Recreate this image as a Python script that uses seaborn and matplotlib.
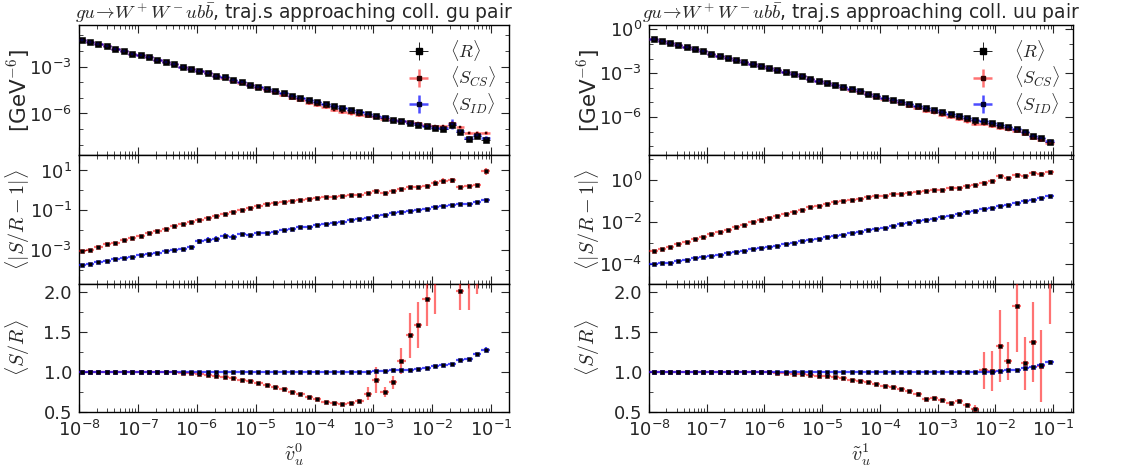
import numpy as np
import matplotlib
matplotlib.use("Agg")
import matplotlib.pyplot as plt
import seaborn as sns
from matplotlib.ticker import FixedLocator, NullFormatter, LogFormatterSciNotation, LogLocator, MultipleLocator
from matplotlib.legend_handler import HandlerTuple
from matplotlib.lines import Line2D

sns.set_style("ticks")
plt.rcParams["font.family"] = ["DejaVu Sans"]
plt.rcParams["mathtext.fontset"] = "cm"
plt.rcParams["axes.unicode_minus"] = False

# ---------------- data ----------------
N_BINS = 49
BINS_PER_DECADE = 7
x0_left = -7.955   # log10 of first bin position, left column
x0_right = -7.92   # log10 of first bin position, right column

# left column: trajectories approaching collinear gu pair
R_left_log = [-1.33, -1.44, -1.59, -1.71, -1.89, -2.01, -2.19, -2.29, -2.42, -2.57,
              -2.72, -2.87, -3.00, -3.15, -3.28, -3.41, -3.58, -3.69, -3.88, -4.01,
              -4.16, -4.31, -4.43, -4.56, -4.69, -4.86, -4.99, -5.14, -5.27, -5.40,
              -5.55, -5.66, -5.78, -5.89, -6.02, -6.15, -6.26, -6.41, -6.49, -6.62,
              -6.71, -6.81, -6.94, -6.96, -6.71, -7.18, -7.61, -7.46, -7.67]
SCS_left_log = [-1.33, -1.44, -1.59, -1.71, -1.89, -2.01, -2.19, -2.29, -2.42, -2.57,
                -2.72, -2.87, -3.00, -3.16, -3.29, -3.43, -3.60, -3.72, -3.91, -4.05,
                -4.21, -4.37, -4.51, -4.65, -4.79, -4.98, -5.13, -5.30, -5.45, -5.60,
                -5.76, -5.88, -5.99, -6.08, -6.16, -6.20, -6.35, -6.44, -6.46, -6.56,
                -6.62, -6.72, -6.80, -6.82, -6.58, -6.86, -7.22, -7.22, -7.22]
SID_left_log = [-1.33, -1.44, -1.59, -1.71, -1.89, -2.01, -2.19, -2.29, -2.42, -2.57,
                -2.72, -2.87, -3.00, -3.15, -3.28, -3.41, -3.58, -3.69, -3.88, -4.01,
                -4.16, -4.31, -4.43, -4.56, -4.69, -4.86, -4.99, -5.14, -5.27, -5.40,
                -5.55, -5.66, -5.78, -5.89, -6.02, -6.14, -6.25, -6.40, -6.48, -6.60,
                -6.69, -6.79, -6.91, -6.92, -6.67, -7.12, -7.54, -7.37, -7.56]
SID_left_err = [0.08] * 44 + [0.3, 0.08, 0.1, 0.1, 0.12]
dev_cs_left_log = [-3.05, -2.97, -2.83, -2.70, -2.62, -2.50, -2.38, -2.30, -2.13, -2.05,
                   -1.92, -1.78, -1.70, -1.58, -1.50, -1.38, -1.28, -1.17, -1.08, -1.00,
                   -0.87, -0.78, -0.70, -0.63, -0.58, -0.53, -0.47, -0.42, -0.38, -0.33,
                   -0.33, -0.30, -0.25, -0.22, -0.13, -0.05, -0.13, -0.05, 0.05, 0.15,
                   0.15, 0.22, 0.38, 0.47, 0.50, 0.18, 0.20, 0.28, 0.95]
dev_id_left_log = [-3.75, -3.67, -3.58, -3.53, -3.45, -3.38, -3.33, -3.25, -3.20, -3.13,
                   -3.05, -3.00, -2.92, -2.83, -2.55, -2.50, -2.45, -2.28, -2.33, -2.20,
                   -2.25, -2.12, -2.12, -2.08, -2.00, -1.95, -1.83, -1.83, -1.75, -1.70,
                   -1.63, -1.58, -1.50, -1.42, -1.37, -1.28, -1.22, -1.12, -1.08, -1.05,
                   -1.00, -0.92, -0.83, -0.78, -0.75, -0.67, -0.67, -0.58, -0.50]
dev_cs_left_err = [0.03, 0.03, 0.03, 0.03, 0.03, 0.03, 0.03, 0.03, 0.03, 0.03,
                   0.03, 0.03, 0.03, 0.03, 0.03, 0.03, 0.03, 0.03, 0.03, 0.03,
                   0.03, 0.03, 0.03, 0.03, 0.03, 0.03, 0.03, 0.03, 0.03, 0.03,
                   0.03, 0.03, 0.03, 0.03, 0.04, 0.04, 0.04, 0.04, 0.05, 0.06,
                   0.06, 0.10, 0.15, 0.15, 0.12, 0.05, 0.05, 0.06, 0.18]
dev_id_left_err = [0.03, 0.03, 0.03, 0.03, 0.03, 0.03, 0.03, 0.03, 0.03, 0.03,
                   0.03, 0.03, 0.03, 0.03, 0.12, 0.15, 0.15, 0.12, 0.12, 0.08,
                   0.05, 0.04, 0.03, 0.03, 0.03, 0.03, 0.03, 0.03, 0.03, 0.03,
                   0.03, 0.03, 0.03, 0.03, 0.03, 0.03, 0.03, 0.03, 0.03, 0.03,
                   0.03, 0.03, 0.03, 0.03, 0.03, 0.03, 0.03, 0.03, 0.03]
ratio_cs_left = [1.00, 1.00, 1.00, 1.00, 1.00, 1.00, 1.00, 1.00, 1.00, 1.00,
                 1.00, 0.995, 0.99, 0.985, 0.975, 0.965, 0.95, 0.935, 0.925, 0.905,
                 0.885, 0.865, 0.84, 0.81, 0.79, 0.75, 0.72, 0.69, 0.66, 0.63,
                 0.615, 0.60, 0.61, 0.64, 0.73, 0.90, 0.75, 0.87, 1.14, 1.46,
                 1.59, 1.91, 2.50, 3.40, 4.20, 2.01, 2.45, 2.65, 9.90]
ratio_cs_left_err = [0.002, 0.002, 0.002, 0.002, 0.002, 0.002, 0.002, 0.002, 0.002, 0.002,
                     0.003, 0.003, 0.003, 0.004, 0.004, 0.005, 0.005, 0.005, 0.006, 0.006,
                     0.007, 0.007, 0.008, 0.008, 0.009, 0.010, 0.010, 0.011, 0.012, 0.013,
                     0.014, 0.015, 0.016, 0.020, 0.085, 0.16, 0.06, 0.08, 0.16, 0.28,
                     0.29, 0.34, 0.78, 1.00, 1.50, 0.23, 0.67, 0.67, 5.00]
ratio_id_left = [1.00, 1.00, 1.00, 1.00, 1.00, 1.00, 1.00, 1.00, 1.00, 1.00,
                 1.00, 1.00, 1.00, 1.00, 1.00, 1.00, 1.00, 1.00, 1.00, 1.00,
                 1.00, 1.00, 1.00, 1.00, 1.00, 1.00, 1.00, 1.00, 1.00, 1.00,
                 1.00, 1.00, 1.00, 1.00, 1.005, 1.01, 1.015, 1.02, 1.03, 1.03,
                 1.04, 1.05, 1.07, 1.09, 1.10, 1.15, 1.16, 1.22, 1.28]
ratio_id_left_err = [0.001] * 40 + [0.004, 0.004, 0.005, 0.005, 0.01, 0.006, 0.008, 0.02, 0.03]

# right column: trajectories approaching collinear uu pair
R_right_log = [-0.69, -0.81, -0.95, -1.09, -1.22, -1.36, -1.50, -1.66, -1.80, -1.96,
               -2.10, -2.24, -2.38, -2.52, -2.66, -2.79, -2.93, -3.07, -3.21, -3.39,
               -3.53, -3.67, -3.81, -3.95, -4.11, -4.25, -4.39, -4.55, -4.69, -4.82,
               -4.96, -5.10, -5.24, -5.38, -5.52, -5.65, -5.79, -5.93, -6.07, -6.18,
               -6.30, -6.44, -6.58, -6.71, -6.85, -7.04, -7.31, -7.45, -7.68]
SCS_right_log = [-0.69, -0.81, -0.95, -1.09, -1.22, -1.36, -1.50, -1.66, -1.80, -1.96,
                 -2.10, -2.24, -2.38, -2.52, -2.66, -2.79, -2.94, -3.08, -3.22, -3.41,
                 -3.55, -3.69, -3.84, -3.99, -4.15, -4.30, -4.45, -4.62, -4.77, -4.91,
                 -5.06, -5.22, -5.38, -5.56, -5.69, -5.84, -6.00, -6.12, -6.30, -6.45,
                 -6.50, -6.62, -6.72, -6.85, -6.93, -7.14, -7.45, -7.54, -7.77]
SID_right_log = [-0.69, -0.81, -0.95, -1.09, -1.22, -1.36, -1.50, -1.66, -1.80, -1.96,
                 -2.10, -2.24, -2.38, -2.52, -2.66, -2.79, -2.93, -3.07, -3.21, -3.39,
                 -3.53, -3.67, -3.81, -3.95, -4.11, -4.25, -4.39, -4.55, -4.69, -4.82,
                 -4.96, -5.10, -5.24, -5.38, -5.52, -5.65, -5.79, -5.93, -6.07, -6.18,
                 -6.30, -6.44, -6.58, -6.70, -6.84, -7.02, -7.28, -7.41, -7.63]
SID_right_err = [0.08] * 49
dev_cs_right_log = [-3.36, -3.29, -3.18, -3.05, -2.94, -2.80, -2.73, -2.56, -2.46, -2.37,
                    -2.23, -2.12, -2.01, -1.91, -1.80, -1.69, -1.61, -1.50, -1.41, -1.30,
                    -1.22, -1.14, -1.06, -1.00, -0.95, -0.88, -0.82, -0.77, -0.74, -0.68,
                    -0.66, -0.62, -0.55, -0.52, -0.49, -0.49, -0.39, -0.36, -0.30, -0.24,
                    -0.11, -0.05, 0.21, 0.11, 0.27, 0.21, 0.36, 0.32, 0.39]
dev_id_right_log = [-4.00, -3.97, -3.95, -3.87, -3.81, -3.74, -3.68, -3.62, -3.55, -3.49,
                    -3.43, -3.36, -3.30, -3.24, -3.18, -3.13, -3.06, -2.99, -2.92, -2.86,
                    -2.80, -2.73, -2.67, -2.61, -2.54, -2.46, -2.40, -2.32, -2.26, -2.20,
                    -2.10, -2.04, -1.97, -1.91, -1.83, -1.75, -1.69, -1.60, -1.53, -1.47,
                    -1.39, -1.33, -1.25, -1.18, -1.11, -1.01, -0.93, -0.87, -0.76]
dev_cs_right_err = [0.03] * 40 + [0.05, 0.05, 0.06, 0.05, 0.06, 0.05, 0.06, 0.05, 0.06]
dev_id_right_err = [0.03] * 49
ratio_cs_right = [1.00, 1.00, 1.00, 1.00, 1.00, 1.00, 1.00, 1.00, 1.00, 1.00,
                  1.00, 1.00, 1.00, 1.00, 0.995, 0.99, 0.985, 0.98, 0.975, 0.965,
                  0.955, 0.945, 0.935, 0.92, 0.905, 0.89, 0.87, 0.85, 0.83, 0.81,
                  0.79, 0.76, 0.73, 0.66, 0.675, 0.65, 0.61, 0.64, 0.59, 0.54,
                  1.02, 1.01, 1.33, 1.14, 1.82, 1.11, 1.37, 1.08, 2.40]
ratio_cs_right_err = [0.002, 0.002, 0.002, 0.002, 0.002, 0.002, 0.002, 0.002, 0.002, 0.002,
                      0.003, 0.003, 0.003, 0.003, 0.004, 0.004, 0.004, 0.005, 0.005, 0.005,
                      0.006, 0.006, 0.007, 0.007, 0.008, 0.008, 0.009, 0.010, 0.010, 0.011,
                      0.012, 0.013, 0.014, 0.015, 0.016, 0.018, 0.020, 0.022, 0.025, 0.05,
                      0.23, 0.25, 0.45, 0.24, 0.57, 0.33, 0.50, 0.45, 0.80]
ratio_id_right = [1.00] * 41 + [1.005, 1.01, 1.02, 1.03, 1.05, 1.065, 1.09, 1.13]
ratio_id_right_err = [0.001] * 41 + [0.003, 0.004, 0.005, 0.006, 0.008, 0.01, 0.012, 0.015]

TITLES = [r"$gu\!\rightarrow\! W^+W^-ub\bar{b}$, traj.s approaching coll. gu pair",
          r"$gu\!\rightarrow\! W^+W^-ub\bar{b}$, traj.s approaching coll. uu pair"]
XLABELS = [r"$\tilde{v}_u^0$", r"$\tilde{v}_u^1$"]
LEGEND_LABELS = [r"$\langle R\rangle$", r"$\langle S_{CS}\rangle$", r"$\langle S_{ID}\rangle$"]

# ---------------- figure ----------------
fig = plt.figure(figsize=(11.36, 4.70), dpi=100)
W, H = 1136.0, 470.0
cols = [(79, 509), (649, 1073)]
rows = [(25, 155), (155, 284), (284, 412)]

RED_E = (1.0, 0.0, 0.0, 0.55)
BLUE_E = (0.0, 0.0, 1.0, 0.7)

columns = [
    dict(x0=x0_left, R=R_left_log, SCS=SCS_left_log, SID=SID_left_log, SIDe=SID_left_err,
         dcs=dev_cs_left_log, did=dev_id_left_log, dcse=dev_cs_left_err, dide=dev_id_left_err,
         rcs=ratio_cs_left, rcse=ratio_cs_left_err, rid=ratio_id_left, ride=ratio_id_left_err,
         xmax=0.2, top_ylim=(10 ** -8.65, 10 ** -0.35), top_ticks=[1e-3, 1e-6],
         mid_ylim=(2e-5, 60), mid_ticks=[1e1, 1e-1, 1e-3]),
    dict(x0=x0_right, R=R_right_log, SCS=SCS_right_log, SID=SID_right_log, SIDe=SID_right_err,
         dcs=dev_cs_right_log, did=dev_id_right_log, dcse=dev_cs_right_err, dide=dev_id_right_err,
         rcs=ratio_cs_right, rcse=ratio_cs_right_err, rid=ratio_id_right, ride=ratio_id_right_err,
         xmax=0.22, top_ylim=(10 ** -8.6, 10 ** 0.3), top_ticks=[1e0, 1e-3, 1e-6],
         mid_ylim=(1.1e-5, 16), mid_ticks=[1e0, 1e-2, 1e-4]),
]


def style_axis(ax, xmax, show_xlabels):
    ax.set_xscale("log")
    ax.set_xlim(1e-8, xmax)
    ax.xaxis.set_major_locator(FixedLocator([10.0 ** k for k in range(-8, 0)]))
    ax.xaxis.set_minor_locator(LogLocator(base=10, subs=np.arange(2, 10), numticks=50))
    ax.xaxis.set_minor_formatter(NullFormatter())
    if show_xlabels:
        ax.xaxis.set_major_formatter(LogFormatterSciNotation())
    else:
        ax.xaxis.set_major_formatter(NullFormatter())
    ax.tick_params(which="both", direction="in", top=True, right=True, labelsize=13, pad=5)
    ax.tick_params(which="major", length=6, width=0.8)
    ax.tick_params(which="minor", length=3, width=0.6)
    for s in ax.spines.values():
        s.set_linewidth(1.0)
        s.set_color("black")


def log_err(vals, dex):
    vals = np.asarray(vals)
    dex = np.asarray(dex)
    return np.vstack([vals - vals * 10 ** -dex, vals * 10 ** dex - vals])


for c, col in enumerate(columns):
    xl, xr = cols[c]
    xpos = 10 ** (col["x0"] + np.arange(N_BINS) / BINS_PER_DECADE)
    half = 10 ** (0.5 / BINS_PER_DECADE)
    xerr = np.vstack([xpos - xpos / half, xpos * half - xpos])
    axes = []
    for r, (yt, yb) in enumerate(rows):
        ax = fig.add_axes([xl / W, 1 - yb / H, (xr - xl) / W, (yb - yt) / H])
        axes.append(ax)
    ax_top, ax_mid, ax_bot = axes
    label_x = -47.0 / (xr - xl)

    # ---- top panel
    R = 10 ** np.array(col["R"])
    SCS = 10 ** np.array(col["SCS"])
    SID = 10 ** np.array(col["SID"])
    eR = ax_top.errorbar(xpos, R, xerr=xerr, yerr=log_err(R, 0.06), fmt="none", ecolor="black", elinewidth=0.6, zorder=2)
    eC = ax_top.errorbar(xpos, SCS, xerr=xerr, yerr=log_err(SCS, 0.08), fmt="none", ecolor=RED_E, elinewidth=1.8, zorder=3)
    eI = ax_top.errorbar(xpos, SID, xerr=xerr, yerr=log_err(SID, col["SIDe"]), fmt="none", ecolor=BLUE_E, elinewidth=1.8, zorder=4)
    sns.scatterplot(x=xpos, y=R, marker="s", s=14, color="black", edgecolor="black", linewidth=0.4, ax=ax_top, zorder=5)
    sns.scatterplot(x=xpos, y=SCS, marker="s", s=4, color="#330000", edgecolor="#550000", linewidth=0.3, ax=ax_top, zorder=6)
    sns.scatterplot(x=xpos, y=SID, marker="s", s=4, color="#000033", edgecolor="#000066", linewidth=0.3, ax=ax_top, zorder=7)
    ax_top.set_yscale("log")
    ax_top.set_ylim(*col["top_ylim"])
    ax_top.yaxis.set_major_locator(FixedLocator(col["top_ticks"]))
    ax_top.yaxis.set_major_formatter(LogFormatterSciNotation())
    ax_top.yaxis.set_minor_locator(FixedLocator([10.0 ** k for k in range(-9, 1)]))
    ax_top.yaxis.set_minor_formatter(NullFormatter())
    ax_top.set_ylabel(r"[GeV$^{-6}$]", fontsize=15.5)
    ax_top.yaxis.set_label_coords(label_x, 0.5)
    ax_top.set_title(TITLES[c], fontsize=13.5, pad=1)

    mR = Line2D([], [], marker="s", ms=4, color="black", ls="none")
    mC = Line2D([], [], marker="s", ms=2.2, color="#330000", ls="none")
    mI = Line2D([], [], marker="s", ms=2.2, color="#000033", ls="none")
    ax_top.legend([(eR, mR), (eC, mC), (eI, mI)], LEGEND_LABELS, loc="upper right",
                  frameon=False, fontsize=13, labelspacing=0.1, handlelength=1.3,
                  handletextpad=1.1, borderaxespad=0.3,
                  handler_map={tuple: HandlerTuple(ndivide=1, pad=0)})

    # ---- middle panel
    dcs = 10 ** np.array(col["dcs"])
    did = 10 ** np.array(col["did"])
    ax_mid.errorbar(xpos, dcs, xerr=xerr, yerr=log_err(dcs, col["dcse"]), fmt="none", ecolor=RED_E, elinewidth=1.6, zorder=3)
    ax_mid.errorbar(xpos, did, xerr=xerr, yerr=log_err(did, col["dide"]), fmt="none", ecolor=BLUE_E, elinewidth=1.6, zorder=3)
    sns.scatterplot(x=xpos, y=dcs, marker="s", s=8, color="black", edgecolor="#660000", linewidth=0.4, ax=ax_mid, zorder=5)
    sns.scatterplot(x=xpos, y=did, marker="s", s=8, color="black", edgecolor="#000066", linewidth=0.4, ax=ax_mid, zorder=5)
    ax_mid.set_yscale("log")
    ax_mid.set_ylim(*col["mid_ylim"])
    ax_mid.yaxis.set_major_locator(FixedLocator(col["mid_ticks"]))
    ax_mid.yaxis.set_major_formatter(LogFormatterSciNotation())
    ax_mid.yaxis.set_minor_locator(FixedLocator([10.0 ** k for k in range(-6, 3)]))
    ax_mid.yaxis.set_minor_formatter(NullFormatter())
    ax_mid.set_ylabel(r"$\langle|S/R-1|\rangle$", fontsize=14.5)
    ax_mid.yaxis.set_label_coords(label_x, 0.5)

    # ---- bottom panel
    rcs = np.array(col["rcs"])
    rid = np.array(col["rid"])
    ax_bot.errorbar(xpos, rcs, xerr=xerr, yerr=col["rcse"], fmt="none", ecolor=RED_E, elinewidth=1.6, zorder=3)
    ax_bot.errorbar(xpos, rid, xerr=xerr, yerr=col["ride"], fmt="none", ecolor=BLUE_E, elinewidth=1.6, zorder=3)
    sns.scatterplot(x=xpos, y=rcs, marker="s", s=8, color="black", edgecolor="#660000", linewidth=0.4, ax=ax_bot, zorder=5)
    sns.scatterplot(x=xpos, y=rid, marker="s", s=8, color="black", edgecolor="#000066", linewidth=0.4, ax=ax_bot, zorder=5)
    ax_bot.set_ylim(0.5, 2.1)
    ax_bot.yaxis.set_major_locator(FixedLocator([0.5, 1.0, 1.5, 2.0]))
    ax_bot.yaxis.set_major_formatter(matplotlib.ticker.FormatStrFormatter("%.1f"))
    ax_bot.yaxis.set_minor_locator(MultipleLocator(0.25))
    ax_bot.set_ylabel(r"$\langle S/R\rangle$", fontsize=14.5)
    ax_bot.yaxis.set_label_coords(label_x, 0.5)
    ax_bot.set_xlabel(XLABELS[c], fontsize=14.5, labelpad=1)

    style_axis(ax_top, col["xmax"], False)
    style_axis(ax_mid, col["xmax"], False)
    style_axis(ax_bot, col["xmax"], True)
    ax_bot.tick_params(axis="x", which="major", pad=6)

fig.savefig("out.png", dpi=100)
